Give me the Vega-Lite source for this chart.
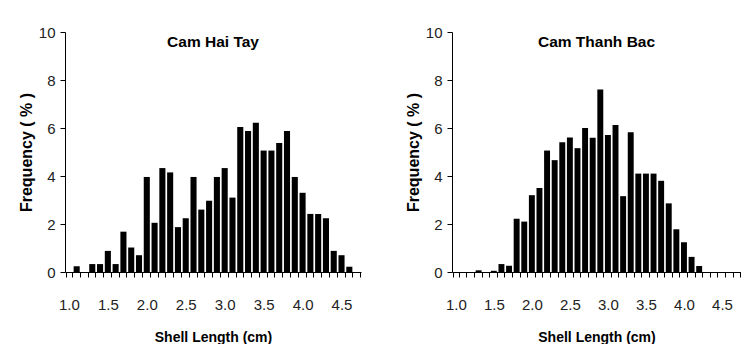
{
  "$schema": "https://vega.github.io/schema/vega-lite/v6.json",
  "padding": {"left": 18, "top": 25, "right": 0, "bottom": 0},
  "spacing": 44,
  "datasets": {
    "hai": [
      {"length": "1.1", "freq": 0.24}, {"length": "1.3", "freq": 0.33}, {"length": "1.4", "freq": 0.33},
      {"length": "1.5", "freq": 0.88}, {"length": "1.6", "freq": 0.33}, {"length": "1.7", "freq": 1.68},
      {"length": "1.8", "freq": 1.02}, {"length": "1.9", "freq": 0.7}, {"length": "2.0", "freq": 3.96},
      {"length": "2.1", "freq": 2.05}, {"length": "2.2", "freq": 4.33}, {"length": "2.3", "freq": 4.15},
      {"length": "2.4", "freq": 1.87}, {"length": "2.5", "freq": 2.24}, {"length": "2.6", "freq": 3.96},
      {"length": "2.7", "freq": 2.6}, {"length": "2.8", "freq": 2.97}, {"length": "2.9", "freq": 3.96},
      {"length": "3.0", "freq": 4.33}, {"length": "3.1", "freq": 3.1}, {"length": "3.2", "freq": 6.04},
      {"length": "3.3", "freq": 5.87}, {"length": "3.4", "freq": 6.22}, {"length": "3.5", "freq": 5.06},
      {"length": "3.6", "freq": 5.06}, {"length": "3.7", "freq": 5.38}, {"length": "3.8", "freq": 5.87},
      {"length": "3.9", "freq": 3.96}, {"length": "4.0", "freq": 3.3}, {"length": "4.1", "freq": 2.42},
      {"length": "4.2", "freq": 2.42}, {"length": "4.3", "freq": 2.24}, {"length": "4.4", "freq": 0.88},
      {"length": "4.5", "freq": 0.7}, {"length": "4.6", "freq": 0.22}
    ],
    "thanh": [
      {"length": "1.3", "freq": 0.07}, {"length": "1.5", "freq": 0.05}, {"length": "1.6", "freq": 0.33},
      {"length": "1.7", "freq": 0.26}, {"length": "1.8", "freq": 2.22}, {"length": "1.9", "freq": 2.1},
      {"length": "2.0", "freq": 3.2}, {"length": "2.1", "freq": 3.5}, {"length": "2.2", "freq": 5.06},
      {"length": "2.3", "freq": 4.66}, {"length": "2.4", "freq": 5.41}, {"length": "2.5", "freq": 5.6},
      {"length": "2.6", "freq": 5.16}, {"length": "2.7", "freq": 6.0}, {"length": "2.8", "freq": 5.59},
      {"length": "2.9", "freq": 7.6}, {"length": "3.0", "freq": 5.71}, {"length": "3.1", "freq": 6.13},
      {"length": "3.2", "freq": 3.16}, {"length": "3.3", "freq": 5.82}, {"length": "3.4", "freq": 4.1},
      {"length": "3.5", "freq": 4.1}, {"length": "3.6", "freq": 4.1}, {"length": "3.7", "freq": 3.8},
      {"length": "3.8", "freq": 2.86}, {"length": "3.9", "freq": 1.78}, {"length": "4.0", "freq": 1.24},
      {"length": "4.1", "freq": 0.63}, {"length": "4.2", "freq": 0.25}
    ]
  },
  "hconcat": [
    {
      "width": 296,
      "height": 240,
      "data": {"name": "hai"},
      "title": {"text": "Cam Hai Tay"},
      "mark": {"type": "bar", "color": "black"},
      "encoding": {
        "x": {
          "field": "length", "type": "ordinal", "title": "Shell Length (cm)",
          "scale": {"domain": ["1.0","1.1","1.2","1.3","1.4","1.5","1.6","1.7","1.8","1.9","2.0","2.1","2.2","2.3","2.4","2.5","2.6","2.7","2.8","2.9","3.0","3.1","3.2","3.3","3.4","3.5","3.6","3.7","3.8","3.9","4.0","4.1","4.2","4.3","4.4","4.5","4.6","4.7"], "paddingInner": 0.22, "paddingOuter": 0.11},
          "axis": {"labelExpr": "indexof(['1.0','1.5','2.0','2.5','3.0','3.5','4.0','4.5'], datum.value) >= 0 ? datum.value : ''", "labelAngle": 0, "tickBand": "extent"}
        },
        "y": {
          "field": "freq", "type": "quantitative", "title": "Frequency ( % )",
          "scale": {"domain": [0, 10]},
          "axis": {"values": [0, 2, 4, 6, 8, 10]}
        }
      }
    },
    {
      "width": 289,
      "height": 240,
      "data": {"name": "thanh"},
      "title": {"text": "Cam Thanh Bac"},
      "mark": {"type": "bar", "color": "black"},
      "encoding": {
        "x": {
          "field": "length", "type": "ordinal", "title": "Shell Length (cm)",
          "scale": {"domain": ["1.0","1.1","1.2","1.3","1.4","1.5","1.6","1.7","1.8","1.9","2.0","2.1","2.2","2.3","2.4","2.5","2.6","2.7","2.8","2.9","3.0","3.1","3.2","3.3","3.4","3.5","3.6","3.7","3.8","3.9","4.0","4.1","4.2","4.3","4.4","4.5","4.6","4.7"], "paddingInner": 0.22, "paddingOuter": 0.11},
          "axis": {"labelExpr": "indexof(['1.0','1.5','2.0','2.5','3.0','3.5','4.0','4.5'], datum.value) >= 0 ? datum.value : ''", "labelAngle": 0, "tickBand": "extent"}
        },
        "y": {
          "field": "freq", "type": "quantitative", "title": "Frequency ( % )",
          "scale": {"domain": [0, 10]},
          "axis": {"values": [0, 2, 4, 6, 8, 10]}
        }
      }
    }
  ],
  "config": {
    "view": {"stroke": null},
    "title": {"font": "Liberation Sans", "fontSize": 15.5, "fontWeight": "bold", "color": "black", "anchor": "middle", "frame": "group", "baseline": "middle", "offset": -25},
    "axis": {
      "grid": false, "domainColor": "black", "tickColor": "black", "tickSize": 5,
      "labelFont": "Liberation Sans", "labelFontSize": 15, "labelColor": "#222",
      "titleFont": "Liberation Sans", "titleFontSize": 14, "titleFontWeight": "bold", "titleColor": "black"
    },
    "axisX": {"labelPadding": 20, "titlePadding": 18},
    "axisY": {"labelPadding": 5, "titlePadding": 4, "titleFontSize": 16}
  }
}
